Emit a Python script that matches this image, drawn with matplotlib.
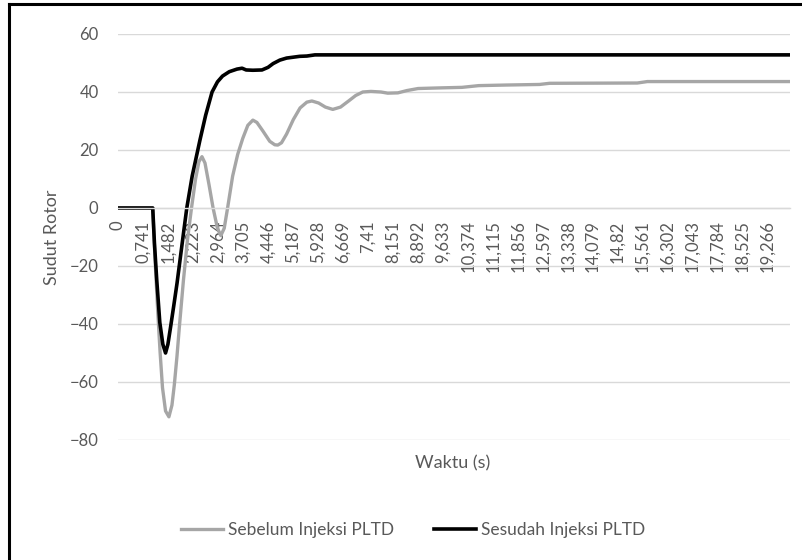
import matplotlib
matplotlib.use("Agg")
import matplotlib.pyplot as plt
from matplotlib.lines import Line2D

plt.rcParams['font.family'] = ['Lato', 'DejaVu Sans']

# waktu (s) dan sudut rotor
t_sebelum = [0, 1.03, 1.1, 1.18, 1.25, 1.32, 1.41, 1.51, 1.6, 1.67, 1.75, 1.82,
             1.94, 2.06, 2.18, 2.3, 2.4, 2.49, 2.58, 2.7, 2.82, 2.95, 3.05,
             3.15, 3.25, 3.4, 3.55, 3.7, 3.85, 4.0, 4.12, 4.3, 4.5, 4.65,
             4.74, 4.85, 5.0, 5.2, 5.4, 5.6, 5.75, 5.95, 6.15, 6.37, 6.6,
             6.85, 7.05, 7.26, 7.5, 7.8, 8.0, 8.3, 8.57, 8.9, 9.5, 10.2,
             10.7, 11.5, 12.5, 12.8, 15.4, 15.7, 19.93]
sebelum = [0, 0, -18, -36, -50, -62, -70, -72, -68, -61, -51, -41,
           -25, -11, 0, 10, 16, 17.7, 15.5, 8, 0, -7, -9.5,
           -7, 0, 11, 18.5, 24, 28.5, 30.3, 29.5, 26.5, 23, 21.8,
           21.7, 22.5, 25.5, 30.5, 34.5, 36.5, 36.9, 36.2, 34.8, 34, 34.8,
           37, 38.8, 40, 40.2, 40, 39.6, 39.7, 40.5, 41.2, 41.4, 41.6,
           42.2, 42.4, 42.6, 43.0, 43.1, 43.6, 43.6]

t_sesudah = [0, 1.03, 1.08, 1.15, 1.24, 1.33, 1.41, 1.48, 1.56, 1.65, 1.75,
             1.85, 1.95, 2.04, 2.2, 2.43, 2.6, 2.79, 2.95, 3.1, 3.3, 3.53,
             3.68, 3.8, 4.0, 4.27, 4.45, 4.6, 4.8, 5.0, 5.39, 5.6, 5.84, 19.93]
sesudah = [0, 0, -12, -25, -39.5, -47, -50, -47, -41, -34, -26,
           -17, -8, 0, 11, 23.4, 32, 40, 43.5, 45.5, 47, 47.9,
           48.2, 47.6, 47.5, 47.6, 48.5, 49.8, 51, 51.7, 52.3, 52.4, 52.8, 52.8]

x_ticks = [0.741 * k for k in range(27)]
x_labels = ['0', '0,741', '1,482', '2,223', '2,964', '3,705', '4,446', '5,187',
            '5,928', '6,669', '7,41', '8,151', '8,892', '9,633', '10,374',
            '11,115', '11,856', '12,597', '13,338', '14,079', '14,82',
            '15,561', '16,302', '17,043', '17,784', '18,525', '19,266']
y_ticks = [-80, -60, -40, -20, 0, 20, 40, 60]

teks = '#595959'

fig = plt.figure(figsize=(8.03, 5.6), dpi=100)
ax = fig.add_axes([118 / 803, 1 - 440 / 560, 672 / 803, 406 / 560])

for s in ['top', 'right', 'left']:
    ax.spines[s].set_visible(False)
ax.spines['bottom'].set_position(('data', 0))
ax.spines['bottom'].set_color('#d9d9d9')
ax.spines['bottom'].set_linewidth(1)

ax.plot(t_sebelum, sebelum, color='#a6a6a6', lw=2.4, label='Sebelum Injeksi PLTD',
        solid_joinstyle='round')
ax.plot(t_sesudah, sesudah, color='black', lw=2.6, label='Sesudah Injeksi PLTD',
        solid_joinstyle='round')

ax.set_xlim(0, 19.93)
ax.set_ylim(-80, 60)
ax.set_yticks(y_ticks)
ax.set_xticks(x_ticks)
ax.set_xticklabels(x_labels, rotation=90, color=teks, fontsize=12)
ax.tick_params(axis='y', labelcolor=teks, labelsize=12, length=0, pad=14)
ax.tick_params(axis='x', length=0, pad=9)
ax.grid(axis='y', color='#d9d9d9', lw=1)
ax.set_axisbelow(True)

fig.text(52 / 803, 1 - 237 / 560, 'Sudut Rotor', rotation=90, ha='center',
         va='center', color=teks, fontsize=13)
fig.text(453 / 803, 1 - 463 / 560, 'Waktu (s)', ha='center', va='center',
         color=teks, fontsize=13)

leg = fig.legend(loc='center', bbox_to_anchor=(413 / 803, 1 - 530 / 560), ncol=2,
                 frameon=False, fontsize=12.5, handlelength=2.4, handletextpad=0.3,
                 columnspacing=2.3)
for txt in leg.get_texts():
    txt.set_color(teks)

# bingkai luar (hanya kiri dan atas yang terlihat)
fig.add_artist(Line2D([9 / 803, 1], [1 - 4 / 560, 1 - 4 / 560], color='black', lw=2.2,
                      transform=fig.transFigure))
fig.add_artist(Line2D([9 / 803, 9 / 803], [0, 1 - 4 / 560], color='black', lw=2.2,
                      transform=fig.transFigure))

fig.savefig('out.png', dpi=100)
